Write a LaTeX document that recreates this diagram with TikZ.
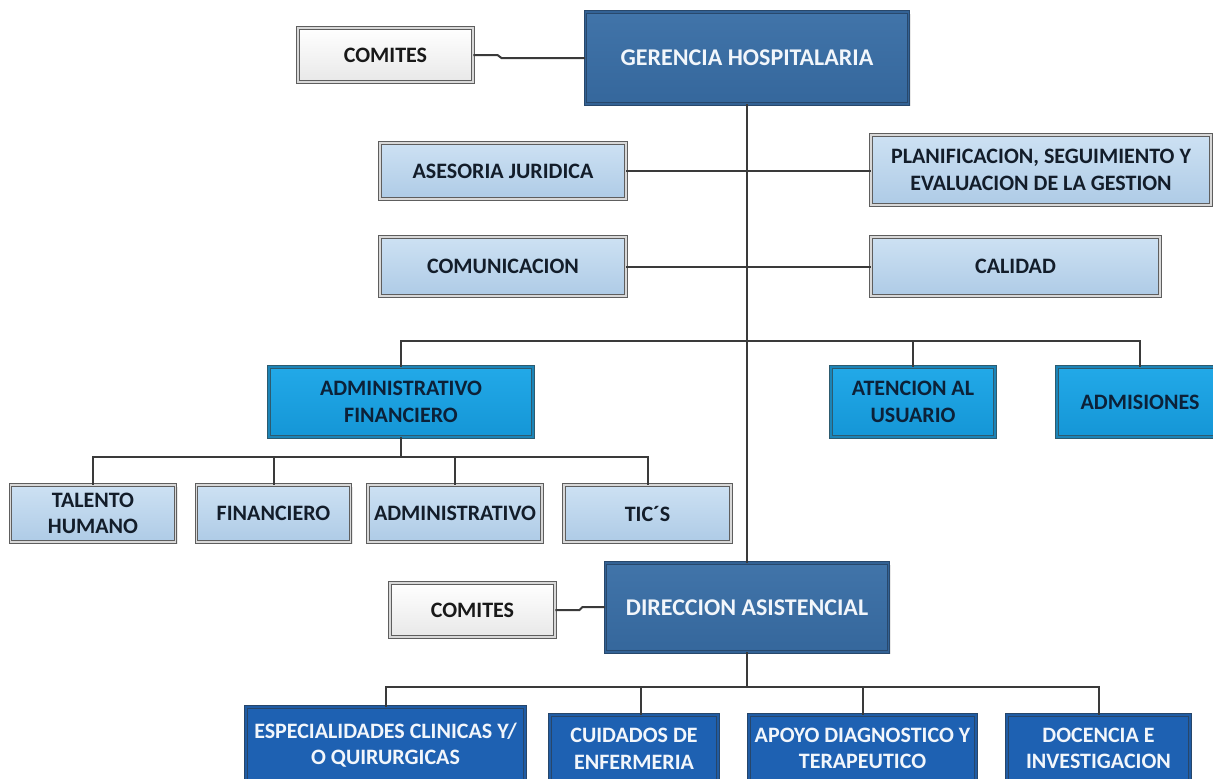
\documentclass[tikz,border=0pt]{standalone}
\usepackage{fontspec}
\setmainfont{Carlito}
\usetikzlibrary{shadows}

\definecolor{linegray}{HTML}{3A3A3A}
\definecolor{frame}{HTML}{5E5E5E}
\definecolor{framegap}{HTML}{D8D8D8}
\definecolor{lighttop}{HTML}{CDE1F3}
\definecolor{lightbot}{HTML}{AECBE6}
\definecolor{lighttext}{HTML}{131D2A}
\definecolor{cyantop}{HTML}{22A9E8}
\definecolor{cyanbot}{HTML}{1596D6}
\definecolor{cyanframe}{HTML}{2D5B6F}
\definecolor{cyantext}{HTML}{0C2138}
\definecolor{darktop}{HTML}{4174A9}
\definecolor{darkbot}{HTML}{35679C}
\definecolor{darkframe}{HTML}{28486C}
\definecolor{deepfill}{HTML}{1E61B2}
\definecolor{deepframe}{HTML}{27466A}
\definecolor{paletext}{HTML}{F2F6FB}

\tikzset{
  wh/.style 2 args={minimum width=#1*0.75pt, minimum height=#2*0.75pt},
  basebox/.style={rectangle, align=center, inner sep=2pt,
    font=\fontsize{16.5}{20}\selectfont\bfseries,
    line width=0.7pt, double distance=0.9pt,
    drop shadow={shadow xshift=1.5pt, shadow yshift=-1.5pt, opacity=0.18}},
  whitebox/.style={basebox, draw=frame, double=framegap,
    top color=white, bottom color=black!9, text=black!90},
  lightbox/.style={basebox, draw=frame, double=framegap,
    top color=lighttop, bottom color=lightbot, text=lighttext},
  cyanbox/.style={basebox, draw=cyanframe, double=cyanbot!70!cyanframe,
    top color=cyantop, bottom color=cyanbot, text=cyantext},
  darkbox/.style={basebox, draw=darkframe, double=darkbot!85!darkframe,
    top color=darktop, bottom color=darkbot, text=paletext,
    font=\fontsize{18}{21}\selectfont\bfseries},
  deepbox/.style={basebox, draw=deepframe, double=deepfill!80!deepframe,
    fill=deepfill, text=paletext},
  link/.style={draw=linegray, line width=1.5pt}
}

\begin{document}
\begin{tikzpicture}[x=0.75pt, y=-0.75pt]
  \useasboundingbox (0,0) rectangle (1213,778);
  \fill[white] (0,0) rectangle (1213,778);

  % top management and staff units
  \node[darkbox, wh={323}{92}] (ger) at (747,58) {GERENCIA HOSPITALARIA};
  \node[whitebox, wh={175}{54}] (com1) at (385.5,55) {COMITES};
  \node[lightbox, wh={246}{56}] (ases) at (503,171) {ASESORIA JURIDICA};
  \node[lightbox, wh={340}{70}] (plan) at (1041,170) {PLANIFICACION, SEGUIMIENTO Y\\EVALUACION DE LA GESTION};
  \node[lightbox, wh={246}{59}] (comu) at (503,266.5) {COMUNICACION};
  \node[lightbox, wh={289}{59}] (cal) at (1015.5,266.5) {CALIDAD};

  % second level
  \node[cyanbox, wh={264}{70}] (admfin) at (401,402) {ADMINISTRATIVO\\FINANCIERO};
  \node[cyanbox, wh={164}{70}] (aten) at (913,402) {ATENCION AL\\USUARIO};
  \node[cyanbox, wh={166}{70}] (admis) at (1140,402) {ADMISIONES};

  % administrative-financial units
  \node[lightbox, wh={165}{57}] (tal) at (93,513.5) {TALENTO\\HUMANO};
  \node[lightbox, wh={154}{57}] (fin) at (273.5,513.5) {FINANCIERO};
  \node[lightbox, wh={174}{57}] (admv) at (455,513.5) {ADMINISTRATIVO};
  \node[lightbox, wh={167}{57}] (tics) at (647.5,513.5) {TIC´S};

  % care direction
  \node[darkbox, wh={283}{89}] (dir) at (747,607.5) {DIRECCION ASISTENCIAL};
  \node[whitebox, wh={165}{54}] (com2) at (472.5,610) {COMITES};

  % care units
  \node[deepbox, wh={279}{76}] (esp) at (385.5,745) {ESPECIALIDADES CLINICAS Y/\\O QUIRURGICAS};
  \node[deepbox, wh={168}{67}] (cuid) at (634,748.5) {CUIDADOS DE\\ENFERMERIA};
  \node[deepbox, wh={227}{67}] (apo) at (862.5,748.5) {APOYO DIAGNOSTICO Y\\TERAPEUTICO};
  \node[deepbox, wh={183}{67}] (doc) at (1098.5,748.5) {DOCENCIA E\\INVESTIGACION};

  % connectors
  \draw[link] (com1.east) -- ++(24,0) -- ++(4,3) coordinate (j1) -- (j1 -| ger.west);
  \draw[link] (com2.east) -- ++(24,0) -- ++(3,-3) coordinate (j2) -- (j2 -| dir.west);
  \draw[link] (ger.south) -- (dir.north);
  \draw[link] (ases.east) -- (ases.east -| plan.west);
  \draw[link] (comu.east) -- (cal.west);

  \coordinate (b1) at (747,341);
  \draw[link] (admfin.north) |- (b1) -| (admis.north);
  \draw[link] (aten.north) -- (aten.north |- b1);

  \draw[link] (admfin.south) -- ++(0,20) coordinate (b2);
  \draw[link] (tal.north) |- (b2) -| (tics.north);
  \draw[link] (fin.north) -- (fin.north |- b2);
  \draw[link] (admv.north) -- (admv.north |- b2);

  \draw[link] (dir.south) -- ++(0,35) coordinate (b3);
  \draw[link] (esp.north) |- (b3) -| (doc.north);
  \draw[link] ([xshift=5.25pt]cuid.north) -- ([xshift=5.25pt]cuid.north |- b3);
  \draw[link] (apo.north) -- (apo.north |- b3);
\end{tikzpicture}
\end{document}
